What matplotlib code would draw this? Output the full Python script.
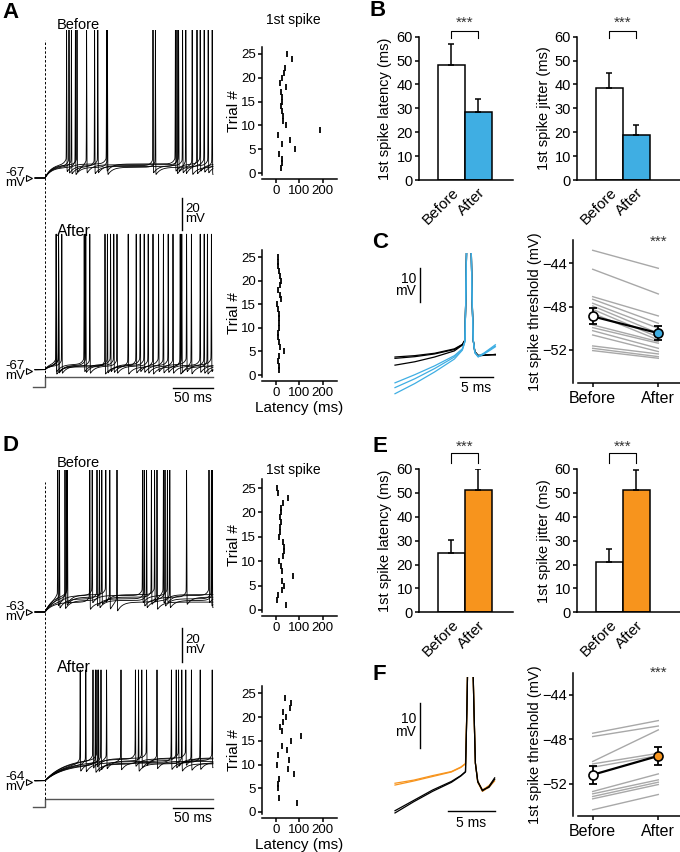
import numpy as np
import matplotlib
matplotlib.use("Agg")
import matplotlib.pyplot as plt

plt.rcParams['font.family'] = ['Liberation Sans', 'DejaVu Sans']
plt.rcParams['axes.linewidth'] = 1.1
plt.rcParams['xtick.major.width'] = 1.1
plt.rcParams['ytick.major.width'] = 1.1
plt.rcParams['xtick.major.size'] = 3
plt.rcParams['ytick.major.size'] = 3
plt.rcParams['xtick.major.pad'] = 1.5
plt.rcParams['ytick.major.pad'] = 1.5

BLUE = '#3FAEE3'
ORANGE = '#F7941D'
GRAY = '#A8A8A8'

# ---------------- data ----------------
groups = ['Before', 'After']

# spike times (ms after current onset) for the overlaid voltage traces
A_before_spikes = [[27, 77, 163, 194], [30, 66, 135, 172, 204], [33, 62, 165, 190],
                   [38, 78, 138, 184, 209], [40, 52, 167, 176, 199]]
A_before_plateau = [-58.5, -59.5, -60.0, -60.5, -59.0]
A_after_spikes = [[14, 49, 82, 119, 142, 177, 208], [17, 51, 86, 124, 154, 194],
                  [21, 56, 90, 129, 160, 199], [14, 75, 104, 135, 169, 203],
                  [17, 78, 114, 148, 171, 183]]
A_after_plateau = [-63.0, -63.5, -64.0, -64.5, -63.8]
D_before_spikes = [[16, 59, 122, 153, 205], [18, 65, 124, 150, 208], [25, 68, 127, 156, 209],
                   [27, 71, 133, 177], [28, 76, 137, 148], [56, 81, 90, 140]]
D_before_plateau = [-53.0, -55.0, -56.0, -54.0, -52.5, -57.0]
D_after_spikes = [[44, 77, 121, 164, 209], [51, 95, 158, 194], [60, 113, 167],
                  [63, 117, 171], [65, 127, 176], [67, 183], [70, 140]]
D_after_plateau = [-51.0, -52.0, -50.0, -53.0, -49.5, -52.5, -51.5]

# raster: trial number and first-spike latency (ms)
A_before_trial = [25, 24, 22, 21, 20, 19, 18, 17, 16, 15, 14, 13, 12, 11, 10, 9, 8, 7, 6, 5, 4, 3, 2, 1]
A_before_lat = [46, 67, 40, 36, 24, 17, 43, 21, 24, 27, 21, 27, 29, 30, 43, 191, 10, 60, 24, 81, 14, 24, 24, 21]
A_after_trial = list(range(25, 0, -1))
A_after_lat = [7, 8, 10, 13, 17, 20, 16, 8, 18, 20, 5, 10, 13, 15, 14, 12, 10, 8, 14, 18, 36, 13, 10, 11, 12]
D_before_trial = [25, 24, 23, 22, 21, 20, 19, 18, 17, 16, 15, 14, 13, 12, 11, 10, 9, 8, 7, 6, 5, 4, 3, 2, 1]
D_before_lat = [3, 7, 50, 29, 22, 21, 17, 20, 18, 16, 14, 31, 33, 35, 29, 14, 21, 24, 74, 24, 36, 27, 10, 6, 43]
D_after_trial = [24, 23, 22, 21, 20, 19, 18, 17, 16, 15, 14, 13, 12, 11, 10, 9, 8, 7, 6, 5, 3, 2]
D_after_lat = [39, 63, 60, 31, 43, 30, 17, 27, 107, 63, 24, 46, 7, 57, 6, 53, 77, 11, 9, 9, 13, 91]

# bar charts (mean, SEM)
B_latency = [48.1, 28.3]; B_latency_err = [8.7, 5.5]
B_jitter = [38.6, 19.0]; B_jitter_err = [6.4, 4.0]
E_latency = [24.7, 51.3]; E_latency_err = [5.6, 8.7]
E_jitter = [20.9, 51.4]; E_jitter_err = [5.5, 8.2]

# threshold (mV) per cell, before and after
C_thr_before = [-42.8, -44.55, -47.08, -47.32, -47.69, -47.94, -48.25, -48.62, -49.69, -49.94,
                -50.22, -50.62, -51.63, -51.85, -52.06]
C_thr_after = [-44.46, -46.83, -48.86, -49.54, -50.0, -50.46, -50.83, -51.08, -51.23, -51.38,
               -51.85, -52.15, -52.37, -52.62, -52.77]
C_thr_mean = [-48.9, -50.45]; C_thr_sem = [0.75, 0.65]
F_thr_before = [-47.45, -47.75, -50.0, -50.22, -50.52, -52.71, -52.92, -53.16, -53.37, -54.36]
F_thr_after = [-46.31, -46.8, -47.15, -49.26, -49.47, -51.12, -51.66, -51.87, -52.08, -52.98]
F_thr_mean = [-51.2, -49.5]; F_thr_sem = [0.8, 0.85]

# spike waveforms (ms, mV relative to threshold)
C_wave_t = [0, 3, 6, 9, 10.2, 10.6, 10.75, 10.95, 11.2, 11.45, 11.65, 11.85, 12.1, 12.6, 13.5, 14.5, 15.2]
C_black_v = [[-5.0, -4.6, -3.9, -2.6, -1.3, 0.0, 15, 40, 60, 40, 15, 0, -3.5, -4.6, -4.4, -4.3, -4.3],
             [-5.4, -4.9, -4.1, -2.8, -1.4, -0.1, 15, 40, 60, 40, 15, 0, -3.4, -4.5, -4.5, -4.4, -4.2],
             [-7.4, -6.4, -5.0, -3.2, -1.5, -0.1, 15, 40, 60, 40, 15, 0, -3.6, -4.7, -4.5, -4.3, -4.4]]
C_blue_v = [[-12.6, -10.2, -7.6, -4.6, -2.6, -0.3, 15, 40, 60, 40, 15, 0, -3.6, -4.9, -4.0, -2.6, -1.8],
            [-14.0, -11.4, -8.4, -5.0, -2.8, -0.4, 15, 40, 60, 40, 15, 0, -3.7, -4.8, -3.8, -2.4, -1.4],
            [-15.8, -12.8, -9.4, -5.6, -3.0, -0.5, 15, 40, 60, 40, 15, 0, -3.8, -5.0, -4.1, -2.9, -2.0]]
F_wave_t = [0, 2, 4, 6, 7.0, 7.5, 7.65, 7.8, 8.0, 8.2, 8.4, 8.55, 8.8, 9.3, 10.0, 10.6]
F_black_v = [[-11.1, -8.6, -6.3, -4.3, -2.9, -2.0, 12, 30, 50, 30, 12, 0, -4.0, -6.2, -5.2, -3.3],
             [-10.6, -8.3, -6.0, -4.1, -2.8, -1.9, 12, 30, 50, 30, 12, 0, -4.2, -6.0, -5.4, -3.6]]
F_orange_v = [[-4.9, -4.0, -3.0, -2.0, -1.0, -0.2, 12, 30, 50, 30, 12, 0, -4.0, -6.0, -5.0, -3.6],
              [-4.5, -3.8, -2.8, -1.9, -0.9, -0.1, 12, 30, 50, 30, 12, 0, -4.3, -6.3, -5.4, -4.0]]

# ---------------- figure ----------------
W, H = 680.0, 852.0
fig = plt.figure(figsize=(6.8, 8.52), dpi=100)


def pax(x0, y0, x1, y1):
    return fig.add_axes([x0 / W, 1 - y1 / H, (x1 - x0) / W, (y1 - y0) / H])


def ftext(x, y, s, **kw):
    fig.text(x / W, 1 - y / H, s, **kw)


def render(t, spikes, v_rest, v_plat, tau, peak):
    tp = np.clip(t, 0, None)
    v = np.where(t < 0, v_rest, v_plat - (v_plat - v_rest) * np.exp(-tp / tau))
    for s in spikes:
        v = v - np.where(t > s, 5.0 * np.exp(-(t - s) / 6.0), 0.0)
        v = v + np.where((t < s) & (t > s - 15), 4.0 * np.exp(-(s - t) / 3.0), 0.0)
    for s in spikes:
        i = min(np.searchsorted(t, s), len(t) - 1)
        v = v + (peak - v[i]) * np.exp(-((t - s) / 0.3) ** 2)
    return v


def trace_panel(box, ref_after_px, ref_after_v, ref_before_px, ref_before_v,
                b_spk, b_pl, b_tau, b_peak, a_spk, a_pl, a_tau, a_peak,
                stim_lo_px, stim_hi_px, dash_top_px, mvbar_px, msbar_px):
    px_ms, px_mv, t0 = 0.8, 1.65, 45.0
    ax = pax(*box)
    x0, y0, x1, y1 = box
    ax.set_xlim((x0 - t0) / px_ms, (x1 - t0) / px_ms)
    ax.set_ylim(ref_after_v - (y1 - ref_after_px) / px_mv, ref_after_v + (ref_after_px - y0) / px_mv)
    ax.axis('off')
    yv = lambda p: ref_after_v - (p - ref_after_px) / px_mv
    tv = lambda p: (p - t0) / px_ms
    off = yv(ref_before_px) - ref_before_v
    t = np.arange(tv(35), tv(213), 0.1)
    for spk, pl in zip(b_spk, b_pl):
        ax.plot(t, render(t, spk, ref_before_v, pl, b_tau, b_peak) + off, color='k', lw=0.6)
    for spk, pl in zip(a_spk, a_pl):
        ax.plot(t, render(t, spk, ref_after_v + 0.8, pl, a_tau, a_peak), color='k', lw=0.6)
    ax.plot([tv(33), 0, 0, tv(213)], [yv(stim_lo_px), yv(stim_lo_px), yv(stim_hi_px), yv(stim_hi_px)],
            color='#555555', lw=1.0)
    ax.plot([0, 0], [yv(stim_hi_px), yv(dash_top_px)], color='k', lw=0.7, ls=(0, (2.5, 2)))
    ax.plot([tv(173), tv(213)], [yv(msbar_px)] * 2, color='k', lw=1.0)
    ax.text(tv(193), yv(msbar_px + 10), '50 ms', ha='center', va='center', fontsize=10)
    ax.plot([tv(182)] * 2, [yv(mvbar_px[0]), yv(mvbar_px[1])], color='k', lw=1.0)
    ax.text(tv(185), yv((mvbar_px[0] + mvbar_px[1]) / 2), '20\nmV', ha='left', va='center',
            fontsize=9.5, linespacing=0.85)
    for px, v in ((ref_before_px, ref_before_v), (ref_after_px, ref_after_v)):
        ax.plot([tv(29)], [yv(px)], marker='>', mfc='white', mec='k', ms=4.5, mew=0.8, clip_on=False)
        ftext(25, px, '%d\nmV' % v, ha='right', va='center', fontsize=9.5, linespacing=0.85)
    return ax


def raster(box, zero_px, per_trial, trials, lats, xlabel=False):
    ax = pax(*box)
    x0, y0, x1, y1 = box
    ax.plot(lats, trials, ls='none', marker='|', ms=4.5, mew=1.3, color='k')
    ax.set_xlim(-60, 262)
    ax.set_ylim(-(y1 - zero_px) / per_trial, (zero_px - y0) / per_trial)
    ax.set_xticks([0, 100, 200])
    ax.set_yticks([0, 5, 10, 15, 20, 25])
    ax.tick_params(labelsize=9.5)
    for s in ('top', 'right'):
        ax.spines[s].set_visible(False)
    ax.spines['bottom'].set_position(('outward', 3))
    ax.set_ylabel('Trial #', fontsize=11, labelpad=0)
    if xlabel:
        ax.set_xlabel('Latency (ms)', fontsize=11, labelpad=1)
    return ax


def bar_panel(box, vals, errs, color, ylabel, ylab_px, sig_px, zero_px, top_px):
    ax = pax(*box)
    x0, y0, x1, y1 = box
    per = (zero_px - top_px) / 60.0
    ax.bar([0, 1], vals, width=1.0, color=['white', color], edgecolor='k', linewidth=1.1, zorder=2)
    ax.errorbar([0, 1], vals, yerr=[[0, 0], errs], fmt='none', ecolor='k', elinewidth=1.1,
                capsize=2.5, capthick=1.1, zorder=3)
    ax.set_xlim(-1.2, -1.2 + (x1 - x0) / 27.0)
    ax.set_ylim(0, 60)
    ax.set_yticks(range(0, 61, 10))
    ax.set_xticks([0, 1])
    ax.set_xticklabels(groups, rotation=45, ha='right', va='top', rotation_mode='anchor', fontsize=11)
    ax.tick_params(axis='x', length=0, pad=4)
    ax.tick_params(axis='y', labelsize=10.5)
    for s in ('top', 'right'):
        ax.spines[s].set_visible(False)
    ax.set_ylabel(ylabel, fontsize=10.5)
    ax.yaxis.set_label_coords((ylab_px - x0) / (x1 - x0), 0.5)
    ax.yaxis.label.set_va('center')
    yb, yt, ys = [(zero_px - p) / per for p in sig_px]
    ax.plot([0, 0, 1, 1], [yb, yt, yt, yb], color='k', lw=0.8, clip_on=False)
    ax.text(0.5, ys, '***', ha='center', va='center', fontsize=11, color='#333333')
    return ax


def thr_panel(box, before, after, mean, sem, color, ref_px, per_mv, star_px):
    ax = pax(*box)
    x0, y0, x1, y1 = box
    for b, a in zip(before, after):
        ax.plot([0, 1], [b, a], color=GRAY, lw=1.0, zorder=1)
    ax.plot([0, 1], mean, color='k', lw=1.6, zorder=3)
    ax.errorbar([0, 1], mean, yerr=sem, fmt='none', ecolor='k', elinewidth=1.3, capsize=3,
                capthick=1.3, zorder=3)
    ax.plot([0], [mean[0]], 'o', mfc='white', mec='k', ms=6.5, mew=1.2, zorder=4)
    ax.plot([1], [mean[1]], 'o', mfc=color, mec='k', ms=6.5, mew=1.2, zorder=4)
    ax.set_xlim(-(592.7 - x0) / 65.6, (x1 - 592.7) / 65.6)
    ax.set_ylim(-44 - (y1 - ref_px) / per_mv, -44 + (ref_px - y0) / per_mv)
    ax.set_yticks([-52, -48, -44])
    ax.set_xticks([0, 1])
    ax.set_xticklabels(groups, fontsize=11.5)
    ax.tick_params(axis='y', labelsize=10.5, pad=1)
    ax.tick_params(axis='x', pad=3)
    for s in ('top', 'right'):
        ax.spines[s].set_visible(False)
    ax.spines['bottom'].set_bounds(-(592.7 - 578) / 65.6, (x1 - 592.7) / 65.6)
    ax.set_ylabel('1st spike threshold (mV)', fontsize=10.5)
    ax.yaxis.set_label_coords((535.5 - x0) / (x1 - x0), 0.5)
    ax.yaxis.label.set_va('center')
    ax.text(1, -44 + (ref_px - star_px) / per_mv, '***', ha='center', va='center', fontsize=11,
            color='#333333')
    return ax


def wave_panel(box, t_pts, traces, colors, px_ms, px_mv, ref_px, mvbar_px, msbar_px, text_px):
    ax = pax(*box)
    x0, y0, x1, y1 = box
    t0 = 395.0
    ax.set_xlim((x0 - t0) / px_ms, (x1 - t0) / px_ms)
    ax.set_ylim(-(y1 - ref_px) / px_mv, (ref_px - y0) / px_mv)
    ax.axis('off')
    for v, c in zip(traces, colors):
        ax.plot(t_pts, v, color=c, lw=0.9)
    yv = lambda p: (ref_px - p) / px_mv
    tv = lambda p: (p - t0) / px_ms
    ax.plot([tv(420)] * 2, [yv(mvbar_px[0]), yv(mvbar_px[1])], color='k', lw=1.0, clip_on=False)
    ax.text(tv(416), yv((mvbar_px[0] + mvbar_px[1]) / 2), '10\nmV', ha='right', va='center',
            fontsize=10, linespacing=0.85, clip_on=False)
    ax.plot([tv(msbar_px[0]), tv(msbar_px[1])], [yv(msbar_px[2])] * 2, color='k', lw=1.0, clip_on=False)
    ax.text(tv((msbar_px[0] + msbar_px[1]) / 2), yv(text_px), '5 ms', ha='center', va='center',
            fontsize=10, clip_on=False)
    return ax


# ---- panel A ----
trace_panel((28, 30, 218, 405), 371, -67, 178, -67,
            A_before_spikes, A_before_plateau, 8, 16.6,
            A_after_spikes, A_after_plateau, 4, 7.0,
            387, 377, 40, (198, 230), 388)
ftext(57, 25, 'Before', ha='left', va='center', fontsize=10.5)
ftext(57, 231, 'After', ha='left', va='center', fontsize=11.5)
raster((262, 47, 337, 175), 173, 4.76, A_before_trial, A_before_lat)
raster((262, 250, 337, 377), 375, 4.72, A_after_trial, A_after_lat, xlabel=True)
ftext(293, 20, '1st spike', ha='center', va='center', fontsize=10)

# ---- panel D ----
trace_panel((28, 470, 218, 830), 782, -64, 612, -63,
            D_before_spikes, D_before_plateau, 10, 16.0,
            D_after_spikes, D_after_plateau, 25, -5.0,
            807, 799, 482, (628, 662), 808)
ftext(57, 463, 'Before', ha='left', va='center', fontsize=10.5)
ftext(57, 668, 'After', ha='left', va='center', fontsize=11.5)
raster((262, 479, 337, 612), 610, 4.88, D_before_trial, D_before_lat)
raster((262, 686, 337, 814), 812, 4.75, D_after_trial, D_after_lat, xlabel=True)
ftext(293, 470, '1st spike', ha='center', va='center', fontsize=10)

# ---- panel B ----
bar_panel((419, 36.7, 513, 180), B_latency, B_latency_err, BLUE, '1st spike latency (ms)', 385,
          (38, 31, 23), 180, 36.7)
bar_panel((577, 36.7, 680, 180), B_jitter, B_jitter_err, BLUE, '1st spike jitter (ms)', 544,
          (38, 31, 23), 180, 36.7)

# ---- panel E ----
bar_panel((419, 469, 513, 612.3), E_latency, E_latency_err, ORANGE, '1st spike latency (ms)', 385,
          (463, 453, 447), 612.3, 469)
bar_panel((577, 469, 680, 612.3), E_jitter, E_jitter_err, ORANGE, '1st spike jitter (ms)', 544,
          (463, 453, 447), 612.3, 469)

# ---- panel C ----
wave_panel((390, 253, 500, 400), C_wave_t, C_black_v + C_blue_v, ['k'] * 3 + [BLUE] * 3,
           6.6, 3.4, 340, (268, 302), (460, 493, 377), 388)
thr_panel((573, 240, 680, 383), C_thr_before, C_thr_after, C_thr_mean, C_thr_sem, BLUE,
          263.3, 10.83, 242)

# ---- panel F ----
wave_panel((390, 677, 500, 830), F_wave_t, F_orange_v + F_black_v, [ORANGE] * 2 + ['k'] * 2,
           9.4, 4.5, 763, (703, 748), (448, 495, 811), 823)
thr_panel((573, 673, 680, 816), F_thr_before, F_thr_after, F_thr_mean, F_thr_sem, ORANGE,
          695, 11.08, 673)

# panel letters
for lab, x, y in (('A', 2, 12), ('B', 370, 11), ('C', 372, 242), ('D', 2, 445),
                  ('E', 372, 447), ('F', 372, 675)):
    ftext(x, y, lab, ha='left', va='center', fontsize=16, fontweight='bold')

fig.savefig('out.png', dpi=100)
